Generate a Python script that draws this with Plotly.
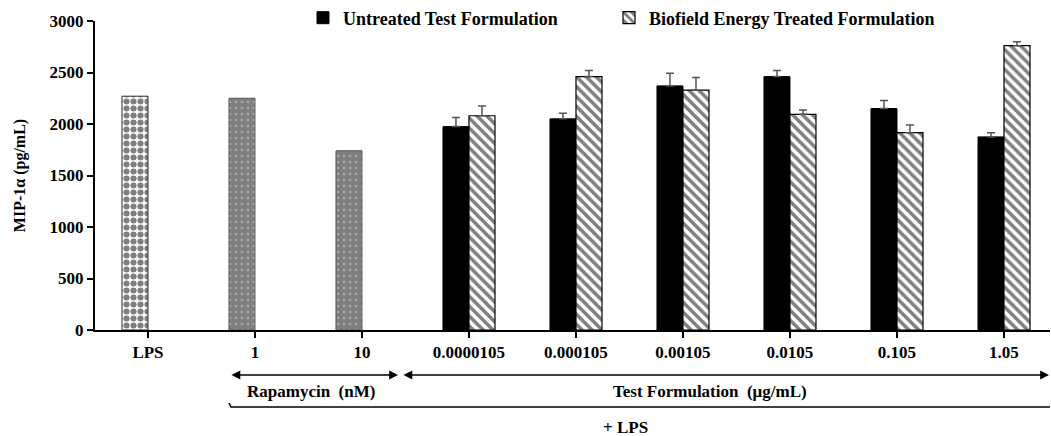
import plotly.graph_objects as go

# ---------------- data ----------------
categories = ["LPS", "1", "10", "0.0000105", "0.000105", "0.00105", "0.0105", "0.105", "1.05"]
lps_cat = ["LPS"]
lps_value = [2270]
rapa_cats = ["1", "10"]
rapa_values = [2250, 1740]
test_cats = ["0.0000105", "0.000105", "0.00105", "0.0105", "0.105", "1.05"]
untreated = [1975, 2050, 2370, 2460, 2150, 1875]
untreated_err = [87, 55, 123, 59, 78, 39]
treated = [2080, 2460, 2328, 2094, 1916, 2760]
treated_err = [94, 59, 123, 42, 74, 39]

y_title = "MIP-1α (pg/mL)"
legend_names = ["Untreated Test Formulation", "Biofield Energy Treated Formulation"]

# ---------------- layout constants (pixels) ----------------
W, H = 1051, 436
L, R, T, B = 95, 1, 21, 106
pw, ph = W - L - R, H - T - B

def px(xp):
    return (xp - L) / pw

def py(yp):
    return (H - B - yp) / ph

BW = 0.243
FONT = "Liberation Serif"
TF = dict(family=FONT, size=17, color="black", weight="bold")
LF = dict(family=FONT, size=18, color="black", weight="bold")

fig = go.Figure()

fig.add_trace(go.Bar(
    x=lps_cat, y=lps_value, width=BW, offset=-BW, showlegend=False,
    marker=dict(color="white", line=dict(color="#333", width=1),
                pattern=dict(shape=".", fgcolor="black", bgcolor="white", size=7, solidity=0.6)),
))
fig.add_trace(go.Bar(
    x=rapa_cats, y=rapa_values, width=BW, offset=-BW, showlegend=False,
    marker=dict(color="#7f7f7f", line=dict(color="#555", width=1),
                pattern=dict(shape=".", fgcolor="#d8d8d8", bgcolor="#7f7f7f", size=6, solidity=0.15)),
))
fig.add_trace(go.Bar(
    x=test_cats, y=untreated, width=BW, offset=-BW, name=legend_names[0], legend="legend",
    marker=dict(color="black", line=dict(color="black", width=1)),
    error_y=dict(type="data", symmetric=False, array=untreated_err,
                 arrayminus=[0] * len(untreated_err), color="#555", thickness=1.5, width=4),
))
fig.add_trace(go.Bar(
    x=test_cats, y=treated, width=BW, offset=0, name=legend_names[1], legend="legend2",
    marker=dict(color="white", line=dict(color="black", width=1.2),
                pattern=dict(shape="\\", fgcolor="black", bgcolor="white", size=7, solidity=0.5)),
    error_y=dict(type="data", symmetric=False, array=treated_err,
                 arrayminus=[0] * len(treated_err), color="#555", thickness=1.5, width=4),
))

legend_common = dict(orientation="h", xanchor="left", y=py(18), yanchor="middle",
                     itemwidth=30, font=LF, bgcolor="rgba(0,0,0,0)")

fig.update_layout(
    width=W, height=H,
    margin=dict(l=L, r=R, t=T, b=B, autoexpand=False),
    paper_bgcolor="white", plot_bgcolor="white",
    font=TF,
    barmode="overlay",
    showlegend=True,
    legend=dict(x=px(303), **legend_common),
    legend2=dict(x=px(609), **legend_common),
    xaxis=dict(type="category", categoryorder="array", categoryarray=categories,
               range=[-0.495, 8.43], showline=True, linecolor="black", linewidth=2,
               ticks="outside", ticklen=6, tickcolor="black", tickwidth=1.5,
               showgrid=False, zeroline=False, tickfont=TF),
    yaxis=dict(range=[0, 3000], dtick=500, showline=True, linecolor="black", linewidth=2,
               ticks="outside", ticklen=6, tickcolor="black", tickwidth=1.5,
               showgrid=False, zeroline=False, tickfont=TF,
               title=dict(text=y_title, standoff=20,
                          font=dict(family=FONT, size=16, color="black", weight="bold"))),
)

# arrows below the axis
arrow_y = py(375)
for x0, x1 in [(230, 398), (402, 1049)]:
    fig.add_annotation(xref="x domain", yref="y domain", axref="x domain", ayref="y domain",
                       x=px(x1), y=arrow_y, ax=px(x0), ay=arrow_y, text="",
                       showarrow=True, arrowhead=2, arrowside="end+start",
                       arrowsize=1.1, arrowwidth=1.6, arrowcolor="black")

for label, xc, yc in [("Rapamycin  (nM)", 311, 391),
                      ("Test Formulation  (μg/mL)", 710, 391),
                      ("+ LPS", 625, 427)]:
    fig.add_annotation(xref="paper", yref="paper", x=px(xc), y=py(yc), text=label,
                       xanchor="center", yanchor="middle", showarrow=False, font=TF)

# bracket line
fig.add_shape(type="path", xref="paper", yref="paper",
              path=f"M {px(229)},{py(403)} L {px(231)},{py(407)} L {px(1050)},{py(407)}",
              line=dict(color="black", width=1.6))

fig.write_html("out.html", config={"displayModeBar": False},
               post_script="document.body.style.margin='0';")
